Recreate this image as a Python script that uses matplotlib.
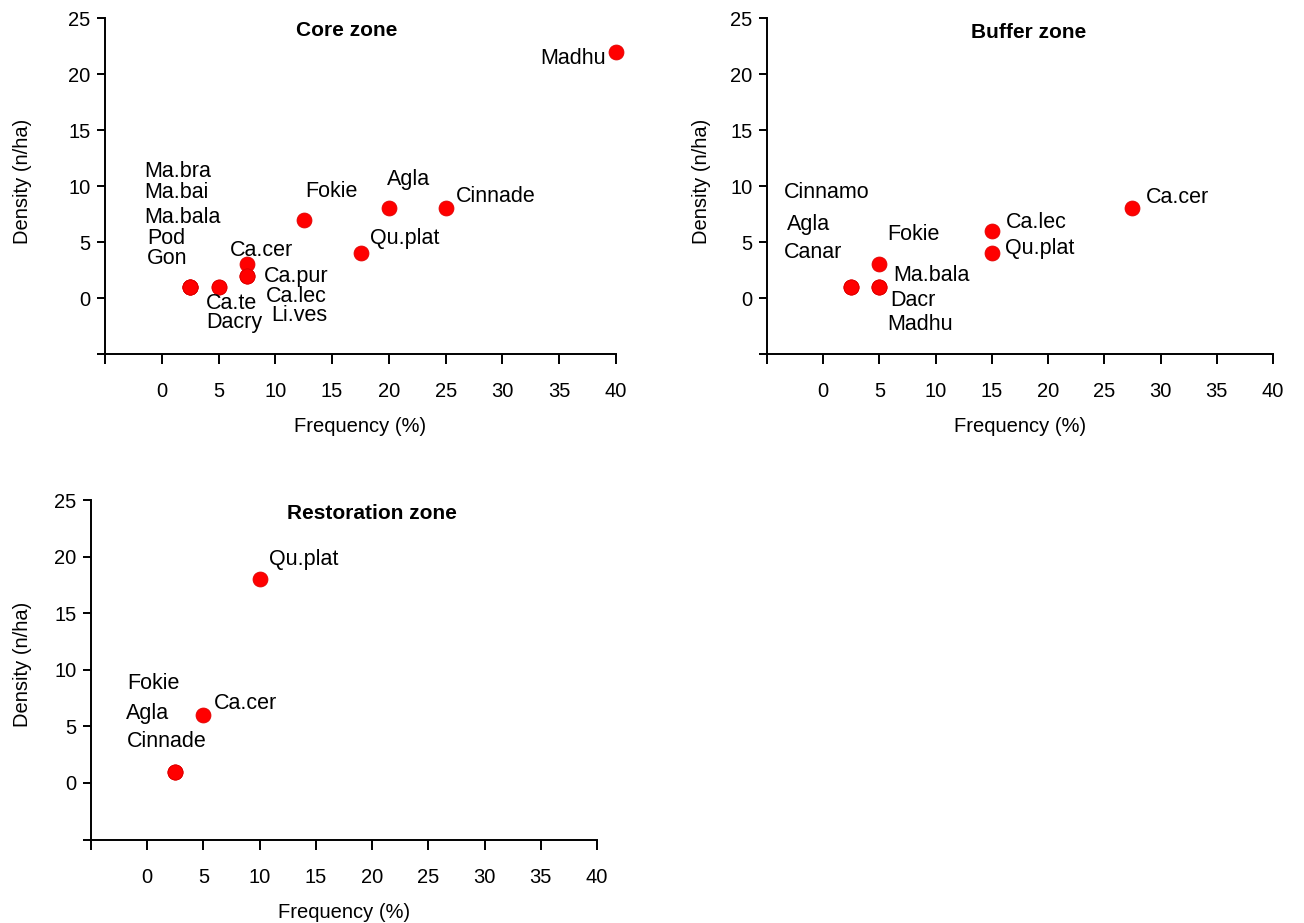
import matplotlib
matplotlib.use("Agg")
import matplotlib.pyplot as plt

plt.rcParams['font.family'] = ['Liberation Sans', 'DejaVu Sans']

# ---------------- data ----------------
core_species = ["Madhu", "Agla", "Cinnade", "Fokie", "Qu.plat", "Ca.cer",
                "Ca.pur", "Ca.lec", "Li.ves", "Ca.te", "Dacry",
                "Ma.bra", "Ma.bai", "Ma.bala", "Pod", "Gon"]
core_freq = [40, 20, 25, 12.5, 17.5, 7.5, 7.5, 7.5, 7.5, 5, 5, 2.5, 2.5, 2.5, 2.5, 2.5]
core_density = [22, 8, 8, 7, 4, 3, 2, 2, 2, 1, 1, 1, 1, 1, 1, 1]

buffer_species = ["Ca.cer", "Ca.lec", "Qu.plat", "Fokie", "Ma.bala", "Dacr",
                  "Madhu", "Cinnamo", "Agla", "Canar"]
buffer_freq = [27.5, 15, 15, 5, 5, 5, 5, 2.5, 2.5, 2.5]
buffer_density = [8, 6, 4, 3, 1, 1, 1, 1, 1, 1]

rest_species = ["Qu.plat", "Ca.cer", "Fokie", "Agla", "Cinnade"]
rest_freq = [10, 5, 2.5, 2.5, 2.5]
rest_density = [18, 6, 1, 1, 1]

x_ticks = [-5, 0, 5, 10, 15, 20, 25, 30, 35, 40]
x_tick_labels = ["", "0", "5", "10", "15", "20", "25", "30", "35", "40"]
y_ticks = [-5, 0, 5, 10, 15, 20, 25]
y_tick_labels = ["", "0", "5", "10", "15", "20", "25"]

# ---------------- layout (label placement) ----------------
core_label_pos = {
    "Madhu": (39.1, 21.4, "right"), "Agla": (19.8, 10.6, "left"),
    "Cinnade": (25.9, 9.05, "left"), "Fokie": (12.6, 9.5, "left"),
    "Qu.plat": (18.3, 5.3, "left"), "Ca.cer": (6.0, 4.2, "left"),
    "Ca.pur": (9.0, 1.9, "left"), "Ca.lec": (9.2, 0.1, "left"),
    "Li.ves": (9.6, -1.55, "left"), "Ca.te": (3.85, -0.5, "left"),
    "Dacry": (3.9, -2.2, "left"), "Ma.bra": (-1.5, 11.3, "left"),
    "Ma.bai": (-1.5, 9.45, "left"), "Ma.bala": (-1.5, 7.2, "left"),
    "Pod": (-1.3, 5.3, "left"), "Gon": (-1.3, 3.5, "left"),
}
buffer_label_pos = {
    "Ca.cer": (28.7, 9.0, "left"), "Ca.lec": (16.2, 6.7, "left"),
    "Qu.plat": (16.2, 4.4, "left"), "Fokie": (5.7, 5.7, "left"),
    "Ma.bala": (6.2, 2.05, "left"), "Dacr": (6.0, -0.25, "left"),
    "Madhu": (5.7, -2.4, "left"), "Cinnamo": (-3.5, 9.4, "left"),
    "Agla": (-3.2, 6.6, "left"), "Canar": (-3.5, 4.1, "left"),
}
rest_label_pos = {
    "Qu.plat": (10.8, 19.7, "left"), "Ca.cer": (5.9, 7.0, "left"),
    "Fokie": (-1.75, 8.8, "left"), "Agla": (-1.9, 6.1, "left"),
    "Cinnade": (-1.8, 3.65, "left"),
}

W, H = 1304, 923
fig = plt.figure(figsize=(W / 100, H / 100), dpi=100)


def px_axes(left, right, top, bottom):
    return fig.add_axes([left / W, 1 - bottom / H, (right - left) / W, (bottom - top) / H])


def style(ax, title, title_pos, ylab_x):
    ax.set_xlim(-5, 40)
    ax.set_ylim(-5, 25)
    for s in ["top", "right"]:
        ax.spines[s].set_visible(False)
    for s in ["left", "bottom"]:
        ax.spines[s].set_linewidth(1.4)
        ax.spines[s].set_color("black")
    ax.set_xticks(x_ticks)
    ax.set_xticklabels(x_tick_labels)
    ax.set_yticks(y_ticks)
    ax.set_yticklabels(y_tick_labels)
    ax.tick_params(axis="x", direction="out", length=7.5, width=1.4, pad=13, labelsize=14.5)
    ax.tick_params(axis="y", direction="out", length=5.5, width=1.4, pad=5, labelsize=14.5)
    ax.text(title_pos[0], title_pos[1], title, ha="center", va="center",
            fontsize=15, fontweight="bold")
    ax.text(0.5, -0.215, "Frequency (%)", transform=ax.transAxes, ha="center",
            va="center", fontsize=14.5)
    ax.text(ylab_x, 0.515, "Density (n/ha)", transform=ax.transAxes, ha="center",
            va="center", rotation=90, fontsize=14.5)


def draw(ax, species, freq, dens, label_pos):
    ax.scatter(freq, dens, s=115, color="#ff0000", edgecolors="#e00000",
               linewidths=0.6, zorder=3, clip_on=False)
    for name in species:
        lx, ly, ha = label_pos[name]
        ax.text(lx, ly, name, ha=ha, va="center", fontsize=15.5)


ax1 = px_axes(105, 616, 18, 354)
style(ax1, "Core zone", (16.3, 23.9), -0.162)
draw(ax1, core_species, core_freq, core_density, core_label_pos)

ax2 = px_axes(767, 1273, 18, 354)
style(ax2, "Buffer zone", (18.3, 23.7), -0.13)
draw(ax2, buffer_species, buffer_freq, buffer_density, buffer_label_pos)

ax3 = px_axes(91, 597, 500, 839.6)
style(ax3, "Restoration zone", (19.95, 23.8), -0.136)
draw(ax3, rest_species, rest_freq, rest_density, rest_label_pos)

fig.savefig("out.png", dpi=100)
